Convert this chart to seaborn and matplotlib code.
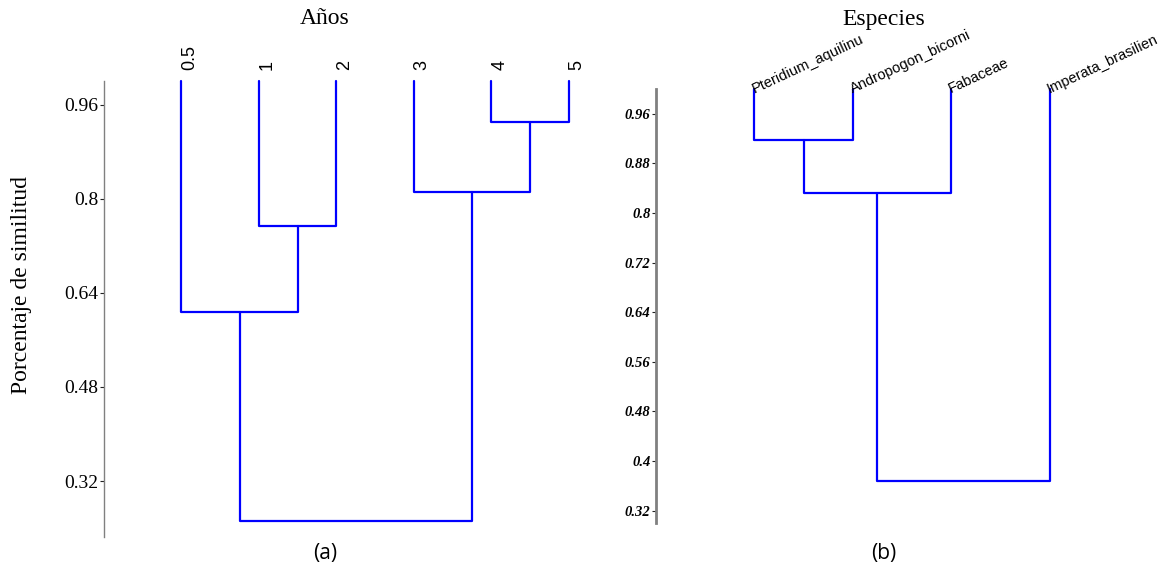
import numpy as np
import pandas as pd
import matplotlib
matplotlib.use("Agg")
import matplotlib.pyplot as plt
import matplotlib.transforms as mtransforms
import seaborn as sns

# ---- data -------------------------------------------------------------
# Panel (a): years
years_labels = ["0.5", "1", "2", "3", "4", "5"]
# merges: (node_a, node_b, similarity); leaves are 0..n-1, new nodes n, n+1, ...
years_merges = [(4, 5, 0.93), (3, 6, 0.811), (1, 2, 0.753), (0, 8, 0.607), (9, 7, 0.253)]
years_ticks = [0.32, 0.48, 0.64, 0.8, 0.96]
years_ticklabels = ["0.32", "0.48", "0.64", "0.8", "0.96"]

# Panel (b): species
species_labels = ["Pteridium_aquilinu", "Andropogon_bicorni", "Fabaceae", "Imperata_brasilien"]
species_merges = [(0, 1, 0.917), (4, 2, 0.833), (5, 3, 0.367)]
species_ticks = [0.32, 0.4, 0.48, 0.56, 0.64, 0.72, 0.8, 0.88, 0.96]
species_ticklabels = ["0.32", "0.4", "0.48", "0.56", "0.64", "0.72", "0.8", "0.88", "0.96"]

leaf_top = 1.0
line_color = "#0000FF"


def dendro_segments(n_leaves, merges, top):
    """Return a long-form table of elbow segments for a dendrogram."""
    xpos = {i: float(i) for i in range(n_leaves)}
    ypos = {i: top for i in range(n_leaves)}
    rows = []
    seg = 0
    for k, (a, b, h) in enumerate(merges):
        node = n_leaves + k
        pts = [(xpos[a], ypos[a]), (xpos[a], h), (xpos[b], h), (xpos[b], ypos[b])]
        for order, (x, y) in enumerate(pts):
            rows.append({"seg": seg, "order": order, "x": x, "y": y})
        seg += 1
        xpos[node] = (xpos[a] + xpos[b]) / 2.0
        ypos[node] = h
    return pd.DataFrame(rows)


sns.set_theme(style="white")
plt.rcParams["font.family"] = ["Liberation Serif", "DejaVu Serif"]
plt.rcParams["text.color"] = "black"
plt.rcParams["ytick.color"] = "black"
plt.rcParams["ytick.labelcolor"] = "black"

W, H = 1161, 572
fig = plt.figure(figsize=(W / 100, H / 100), dpi=100)


def px_axes(left, top, right, bottom):
    return fig.add_axes([left / W, 1 - bottom / H, (right - left) / W, (bottom - top) / H])


ax1 = px_axes(104, 81, 646, 537)
ax2 = px_axes(656, 89, 1148, 523)

for ax, labels, merges, ylim in [
    (ax1, years_labels, years_merges, (0.225, 1.0)),
    (ax2, species_labels, species_merges, (0.30, 1.0)),
]:
    df = dendro_segments(len(labels), merges, leaf_top)
    sns.lineplot(data=df, x="x", y="y", units="seg", estimator=None, sort=False,
                 color=line_color, linewidth=1.6, ax=ax, legend=False)
    ax.set_xlim(-1, len(labels))
    ax.set_ylim(*ylim)
    ax.set_xlabel("")
    ax.set_ylabel("")
    ax.set_xticks([])
    for s in ["top", "right", "bottom"]:
        ax.spines[s].set_visible(False)
    for line in ax.lines:
        line.set_clip_on(False)

# Left panel axis styling
ax1.spines["left"].set_color("#808080")
ax1.spines["left"].set_linewidth(1.0)
ax1.set_yticks(years_ticks)
ax1.set_yticklabels(years_ticklabels, fontsize=14, family="Liberation Serif", color="black")
ax1.tick_params(axis="y", left=True, length=3, width=0.8, color="#222222", pad=1)

# Right panel axis styling
ax2.spines["left"].set_color("#808080")
ax2.spines["left"].set_linewidth(2.0)
ax2.set_yticks(species_ticks)
ax2.set_yticklabels(species_ticklabels, fontsize=10.5, family="Liberation Serif",
                    fontweight="bold", fontstyle="italic", color="black")
ax2.tick_params(axis="y", left=True, length=3, width=0.8, color="#222222", pad=1)

# Leaf labels
for i, lab in enumerate(years_labels):
    tr = mtransforms.offset_copy(ax1.transData, fig=fig, x=0, y=11, units="dots")
    ax1.text(i, leaf_top, lab, rotation=90, ha="left", va="bottom", transform=tr,
             fontsize=13, family="Liberation Sans", color="black", clip_on=False)

for i, lab in enumerate(species_labels):
    tr = mtransforms.offset_copy(ax2.transData, fig=fig, x=0, y=-4, units="dots")
    ax2.text(i, leaf_top, lab, rotation=25, rotation_mode="anchor", ha="left",
             va="baseline", transform=tr, fontsize=10.5, family="Liberation Sans",
             color="black", clip_on=False)

# Titles, axis label and panel tags
fig.text(325 / W, 1 - 19 / H, "Años", ha="center", va="center", fontsize=17,
         family="Liberation Serif", color="black")
fig.text(884 / W, 1 - 19 / H, "Especies", ha="center", va="center", fontsize=17,
         family="Liberation Serif", color="black")
fig.text(22 / W, 1 - 285 / H, "Porcentaje de similitud", rotation=90, ha="center",
         va="center", fontsize=17, family="Liberation Serif", color="black")
fig.text(325 / W, 1 - 553 / H, "(a)", ha="center", va="center", fontsize=15,
         family="Open Sans", color="black")
fig.text(884 / W, 1 - 553 / H, "(b)", ha="center", va="center", fontsize=15,
         family="Open Sans", color="black")

fig.savefig("out.png", dpi=100, facecolor="white")
